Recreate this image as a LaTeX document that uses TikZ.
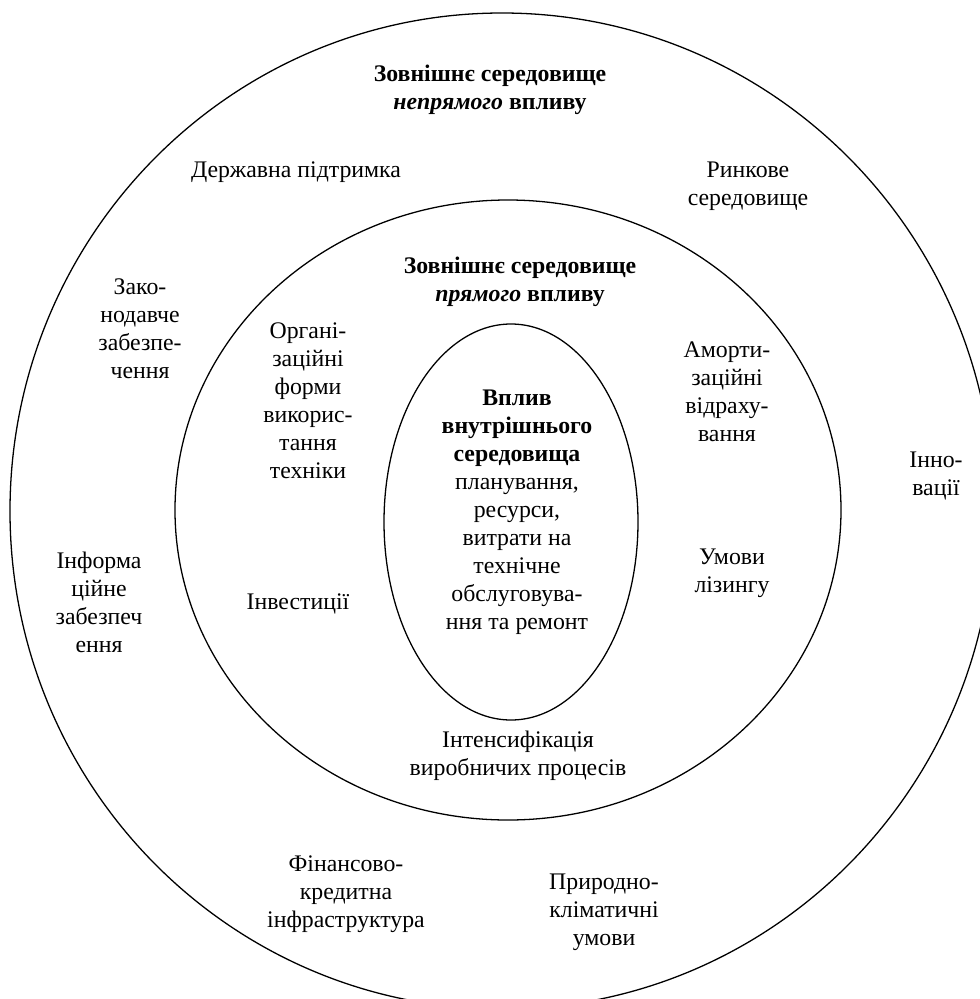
\documentclass[tikz,border=0pt]{standalone}
\usepackage{fontspec}
\setmainfont{Liberation Serif}
\tikzset{
  ring/.style={black, line width=1.1pt},
  lbl/.style={align=center, inner sep=0pt, font=\fontsize{20.3}{23.9}\selectfont},
}
\begin{document}
\begin{tikzpicture}[x=0.03cm, y=-0.03cm]
            \clip (0,0) rectangle (980,999);

            \draw[ring] (502,511) ellipse [x radius=492, y radius=498];
            \draw[ring] (508,510) ellipse [x radius=333, y radius=310];
            \draw[ring] (511,522) ellipse [x radius=127, y radius=198];

            \node[lbl] (outertitle) at (490,90) {\textbf{Зовнішнє середовище}\\\textbf{\textit{непрямого}} \textbf{впливу}};
            \node[lbl] (state) at (296,172) {Державна підтримка};
            \node[lbl] (market) at (748,186) {Ринкове\\середовище};
            \node[lbl] (law) at (140,329) {Зако-\\нодавче\\забезпе-\\чення};
            \node[lbl] (info) at (99,602) {Інформа\\ційне\\забезпеч\\ення};
            \node[lbl] (innov) at (936,476) {Інно-\\вації};
            \node[lbl] (finance) at (346,894) {Фінансово-\\кредитна\\інфраструктура};
            \node[lbl] (nature) at (604,912) {Природно-\\кліматичні\\умови};

            \node[lbl] (midtitle) at (520,282) {\textbf{Зовнішнє середовище}\\\textbf{\textit{прямого}} \textbf{впливу}};
            \node[lbl] (org) at (308,401) {Органі-\\заційні\\форми\\викорис-\\тання\\техніки};
            \node[lbl] (amort) at (727,392) {Аморти-\\заційні\\відраху-\\вання};
            \node[lbl] (leasing) at (732,573) {Умови\\лізингу};
            \node[lbl] (invest) at (298,604) {Інвестиції};
            \node[lbl] (intens) at (518,756) {Інтенсифікація\\виробничих процесів};

            \node[lbl] (inner) at (517,512) {\textbf{Вплив}\\\textbf{внутрішнього}\\\textbf{середовища}\\планування,\\ресурси,\\витрати на\\технічне\\обслуговува-\\ння та ремонт};
\end{tikzpicture}
\end{document}
